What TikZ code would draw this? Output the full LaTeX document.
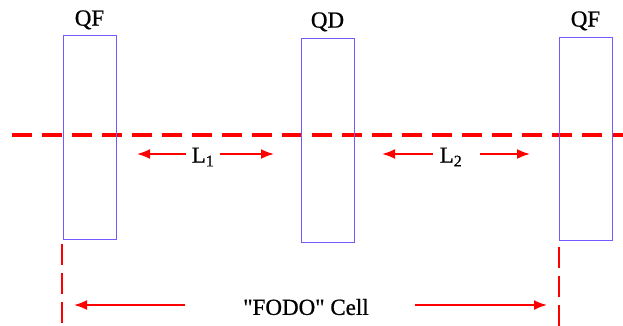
\documentclass[tikz,border=0pt]{standalone}
\usepackage{fontspec}
\setmainfont{Liberation Serif}
\newfontfamily\labelfont[FakeBold=0.8]{Liberation Serif}
\usetikzlibrary{arrows.meta,positioning}
\definecolor{magblue}{RGB}{118,88,255}

\begin{document}
\begin{tikzpicture}[x=1pt,y=-1pt,
    magnet/.style={draw=magblue, line width=1pt, minimum width=53pt, inner sep=0pt},
    lbl/.style={font=\labelfont\fontsize{23}{26}\selectfont, inner sep=0pt},
    axis/.style={red, line width=4pt, dash pattern=on 20pt off 10pt},
    bound/.style={red, line width=2.2pt, dash pattern=on 21pt off 8pt},
    dist/.style={red, line width=1.8pt, -{Latex[length=13pt,width=10pt]}}]
    \useasboundingbox (0,0) rectangle (623,326);

    % beam axis
    \coordinate (ax0) at (12,135);
    \coordinate (ax1) at (623,135);
    \draw[axis] (ax0) -- (ax1);

    % magnets
    \node[magnet, minimum height=203pt] (qf1) at (89.5,137.5) {};
    \node[magnet, minimum height=203pt] (qd) at (327.5,140.5) {};
    \node[magnet, minimum height=202pt] (qf2) at (585.5,139) {};

    \node[lbl, above=6pt of qf1] (qf1l) {QF};
    \node[lbl, above=7pt of qd] (qdl) {QD};
    \node[lbl, above=7pt of qf2] (qf2l) {QF};

    % drifts
    \node[lbl] (l1) at (203,157) {L\textsubscript{1}};
    \coordinate (l1a) at (137,154);
    \coordinate (l1b) at (274,154);
    \draw[dist, shorten <=6pt] (l1.west |- l1a) -- (l1a);
    \draw[dist, shorten <=5pt] (l1.east |- l1b) -- (l1b);

    \node[lbl] (l2) at (451,157) {L\textsubscript{2}};
    \coordinate (l2a) at (382,154);
    \coordinate (l2b) at (530,154);
    \draw[dist, shorten <=7pt] (l2.west |- l2a) -- (l2a);
    \draw[dist, shorten <=17pt] (l2.east |- l2b) -- (l2b);

    % cell boundaries
    \coordinate (c0) at (62,244);
    \coordinate (c0b) at (62,326);
    \coordinate (c1) at (559,247);
    \coordinate (c1b) at (559,326);
    \draw[bound] (c0) -- (c0b);
    \draw[bound] (c1) -- (c1b);

    \node[lbl] (cell) at (306,307) {\textquotedbl FODO\textquotedbl{} Cell};
    \coordinate (ca) at (74,305);
    \coordinate (cb) at (547,305);
    \draw[dist, shorten <=58pt] (cell.west |- ca) -- (ca);
    \draw[dist, shorten <=46pt] (cell.east |- cb) -- (cb);
\end{tikzpicture}
\end{document}
